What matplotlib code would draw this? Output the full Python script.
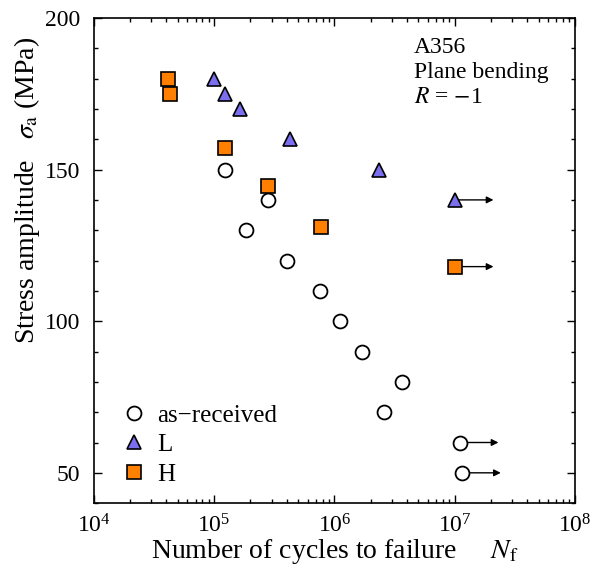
import numpy as np
import matplotlib
matplotlib.use('Agg')
import matplotlib.pyplot as plt
from matplotlib.ticker import LogLocator, MultipleLocator, FixedLocator

plt.rcParams['font.family'] = ['Liberation Serif', 'DejaVu Serif']
plt.rcParams['mathtext.fontset'] = 'stix'

# as-received
ar_n = [1.22e5, 2.8e5, 1.83e5, 4.07e5, 7.6e5, 1.12e6, 1.7e6, 3.66e6, 2.6e6, 1.1e7, 1.15e7]
ar_s = [150, 140, 130, 120, 110, 100, 90, 80, 70, 60, 50]
ar_runout = [False] * 9 + [True, True]

# L
l_n = [1.0e5, 1.23e5, 1.63e5, 4.3e5, 2.36e6, 1.0e7]
l_s = [180, 175, 170, 160, 150, 140]
l_runout = [False] * 5 + [True]

# H
h_n = [4.1e4, 4.27e4, 1.22e5, 2.8e5, 7.8e5, 1.0e7]
h_s = [180, 175, 157, 144.5, 131, 118]
h_runout = [False] * 5 + [True]

fig = plt.figure(figsize=(5.94, 5.79), dpi=100)
ax = fig.add_axes([0.158, 0.131, 0.810, 0.838])

# run-out arrows
arrow_len = 2.1
for n, s, r in zip(ar_n + l_n + h_n, ar_s + l_s + h_s, ar_runout + l_runout + h_runout):
    if r:
        ax.annotate('', xy=(n * arrow_len, s), xytext=(n, s),
                    arrowprops=dict(arrowstyle='-|>', color='black', lw=1.0,
                                    mutation_scale=10, shrinkA=0, shrinkB=0),
                    zorder=1)

ax.plot(ar_n, ar_s, 'o', ls='none', ms=10, mfc='white', mec='black', mew=1.3,
        label='as\u2212received', zorder=3)
ax.plot(l_n, l_s, '^', ls='none', ms=10.5, mfc='#7b6ff0', mec='black', mew=1.2,
        label='L', zorder=3)
ax.plot(h_n, h_s, 's', ls='none', ms=10, mfc='#ff8000', mec='black', mew=1.2,
        label='H', zorder=3)

ax.set_xscale('log')
ax.set_xlim(1e4, 1e8)
ax.set_ylim(40, 200)
ax.yaxis.set_major_locator(FixedLocator([50, 100, 150, 200]))
ax.yaxis.set_minor_locator(MultipleLocator(10))
ax.xaxis.set_major_locator(LogLocator(base=10, numticks=10))
ax.xaxis.set_minor_locator(LogLocator(base=10, subs=np.arange(2, 10), numticks=10))

ax.tick_params(which='both', direction='in', top=True, right=True, labelsize=17, width=1.0)
ax.tick_params(axis='y', which='major', length=6, pad=10)
ax.tick_params(axis='x', which='major', length=6, pad=8)
ax.tick_params(which='minor', length=3)
for sp in ax.spines.values():
    sp.set_linewidth(1.2)

ax.set_xlabel(r'Number of cycles to failure     $N_\mathrm{f}$', fontsize=20, labelpad=0)
ax.set_ylabel(r'Stress amplitude   $\sigma_\mathrm{a}$ (MPa)', fontsize=20, labelpad=4)
ax.yaxis.set_label_coords(-0.108, 0.645)

ax.text(0.665, 0.96, 'A356\nPlane bending\n' + r'$R$ = $-$1', transform=ax.transAxes,
        fontsize=17, va='top', ha='left', linespacing=1.25)

ax.legend(loc='lower left', frameon=False, fontsize=18, handletextpad=0.45,
          borderaxespad=0.5, labelspacing=0.28, handlelength=1.0,
          bbox_to_anchor=(0.01, -0.01))

fig.savefig('out.png', dpi=100)
